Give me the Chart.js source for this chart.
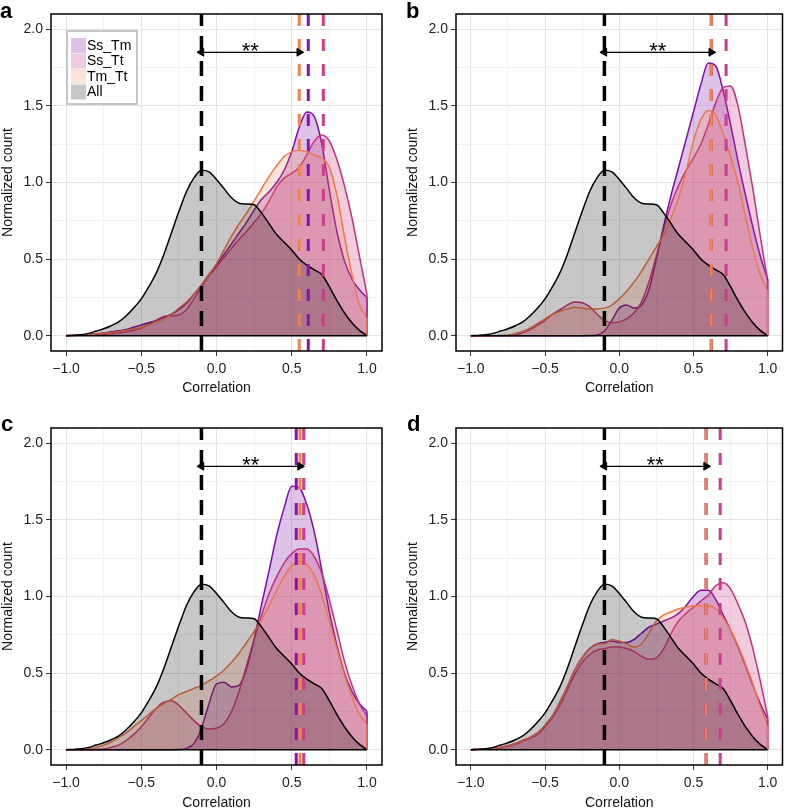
<!DOCTYPE html>
<html>
<head>
<meta charset="utf-8">
<script src="https://cdn.jsdelivr.net/npm/chart.js@4.4.0/dist/chart.umd.min.js"></script>
<style>
  body { margin: 0; background: #fff; }
  #wrap { position: relative; width: 788px; height: 810px; }
  #wrap canvas { position: absolute; }
</style>
</head>
<body>
<div id="wrap">
  <canvas id="pa" width="394" height="405" style="left:0;top:0"></canvas>
  <canvas id="pb" width="394" height="405" style="left:394px;top:0"></canvas>
  <canvas id="pc" width="394" height="405" style="left:0;top:405px"></canvas>
  <canvas id="pd" width="394" height="405" style="left:394px;top:405px"></canvas>
</div>
<script>
// x grid of the density curves
const correlation = [-1.00,-0.95,-0.90,-0.85,-0.80,-0.75,-0.70,-0.65,-0.60,-0.55,-0.50,-0.45,-0.40,-0.35,-0.30,-0.25,-0.20,-0.15,-0.10,-0.05,
  0.00,0.05,0.10,0.15,0.20,0.25,0.30,0.35,0.40,0.45,0.50,0.55,0.60,0.65,0.70,0.75,0.80,0.85,0.90,0.95,1.00];

const seriesNames = ['Ss_Tm', 'Ss_Tt', 'Tm_Tt', 'All'];

// "All" density, same in every panel
const allCount = [0,.002,.006,.015,.03,.045,.065,.09,.13,.18,.24,.32,.41,.53,.67,.81,.94,1.03,1.08,1.07,
  1.02,.96,.9,.865,.86,.855,.8,.73,.66,.61,.56,.5,.46,.43,.4,.32,.23,.15,.085,.035,0];

// panel a
const a_SsTm = [0,.003,.005,.008,.012,.018,.025,.032,.04,.055,.07,.085,.1,.12,.14,.17,.21,.27,.33,.4,
  .46,.53,.6,.67,.74,.82,.89,.94,1.0,1.08,1.2,1.36,1.46,1.43,1.25,.95,.68,.49,.37,.3,.25];
const a_SsTt = [0,.002,.003,.005,.006,.009,.012,.018,.025,.035,.05,.075,.1,.125,.13,.135,.17,.24,.32,.39,
  .45,.51,.57,.63,.68,.74,.8,.88,.97,1.03,1.06,1.1,1.18,1.27,1.31,1.27,1.15,.98,.77,.52,.27];
const a_TmTt = [0,.003,.005,.008,.012,.016,.02,.027,.035,.045,.055,.07,.09,.11,.14,.18,.22,.27,.33,.4,
  .47,.56,.65,.73,.8,.88,.96,1.04,1.11,1.17,1.2,1.21,1.2,1.18,1.16,1.1,.92,.65,.4,.2,.12];

// panel b
const b_SsTm = [0,0,0,0,0,0,0,0,0,0,0,0,0,0,0,0,.001,.005,.03,.1,
  .18,.2,.18,.2,.3,.5,.72,.92,1.1,1.28,1.46,1.64,1.78,1.76,1.6,1.38,1.14,.92,.71,.52,.37];
const b_SsTt = [0,0,0,0,0,.001,.005,.02,.04,.07,.1,.14,.17,.2,.22,.215,.19,.14,.1,.085,
  .09,.11,.15,.22,.35,.52,.7,.86,.98,1.08,1.16,1.25,1.38,1.52,1.62,1.63,1.5,1.24,.96,.65,.36];
const b_TmTt = [0,0,0,0,.002,.005,.015,.03,.05,.08,.11,.14,.16,.175,.185,.18,.175,.175,.18,.2,
  .24,.29,.35,.42,.5,.58,.66,.77,.9,1.07,1.27,1.41,1.47,1.44,1.32,1.17,1.0,.78,.57,.4,.3];

// panel c
const c_SsTm = [0,0,0,0,0,0,0,0,0,0,0,0,0,0,0,.001,.008,.04,.14,.3,
  .43,.44,.41,.42,.53,.72,.95,1.17,1.4,1.58,1.72,1.71,1.6,1.42,1.17,.9,.68,.5,.38,.3,.25];
const c_SsTt = [0,0,0,0,.002,.005,.015,.03,.06,.1,.15,.21,.27,.31,.32,.29,.24,.19,.15,.135,
  .14,.17,.25,.38,.55,.72,.88,1.02,1.13,1.22,1.28,1.31,1.31,1.26,1.15,.98,.78,.58,.42,.3,.22];
const c_TmTt = [0,0,0,.005,.015,.03,.05,.08,.11,.15,.19,.23,.27,.3,.33,.36,.38,.4,.42,.45,
  .48,.52,.57,.63,.7,.77,.85,.94,1.04,1.13,1.2,1.23,1.21,1.14,1.01,.84,.66,.49,.35,.23,.17];

// panel d
const d_SsTm = [0,.002,.005,.01,.015,.025,.04,.06,.08,.11,.16,.22,.31,.41,.52,.6,.66,.69,.7,.71,
  .7,.7,.72,.76,.8,.82,.84,.86,.89,.94,1.0,1.04,1.04,.98,.88,.78,.67,.55,.42,.3,.2];
const d_SsTt = [0,.002,.004,.008,.013,.022,.035,.055,.075,.1,.15,.21,.29,.39,.49,.57,.62,.65,.66,.67,
  .67,.66,.64,.61,.59,.6,.66,.76,.84,.89,.93,.97,1.01,1.07,1.09,1.05,.95,.83,.66,.45,.22];
const d_TmTt = [0,.002,.005,.01,.015,.025,.04,.06,.08,.11,.16,.22,.31,.41,.52,.6,.66,.69,.69,.72,
  .71,.69,.67,.69,.76,.84,.88,.9,.92,.93,.94,.94,.94,.92,.86,.78,.68,.56,.43,.28,.16];

// medians, order Ss_Tm, Ss_Tt, Tm_Tt
const medianAll = -0.1;
const a_medians = [0.61, 0.71, 0.55];
const b_medians = [0.62, 0.72, 0.62];
const c_medians = [0.53, 0.58, 0.555];
const d_medians = [0.585, 0.68, 0.585];

// axis ticks
const xTicks = [-1, -0.75, -0.5, -0.25, 0, 0.25, 0.5, 0.75, 1];
const yTicks = [0, 0.25, 0.5, 0.75, 1, 1.25, 1.5, 1.75, 2];
const xMin = -1.1, xMax = 1.1, yMin = -0.1, yMax = 2.1;
const arrowY = 1.85;
const starY = 1.81;
const starText = '**';

const lineColors = { Ss_Tm: '#7d0ca8', Ss_Tt: '#c2317c', Tm_Tt: '#ec7845', All: '#000000' };
const fillColors = { Ss_Tm: 'rgba(123,14,166,0.25)', Ss_Tt: 'rgba(196,51,122,0.25)',
                     Tm_Tt: 'rgba(238,122,69,0.2)', All: 'rgba(0,0,0,0.22)' };
const medianColors = { Ss_Tm: '#8a10b6', Ss_Tt: '#cc3c88', Tm_Tt: '#f0824e' };

Chart.defaults.font.family = "'Liberation Sans', Arial, sans-serif";
Chart.defaults.color = '#222';

const isMajor = v => Math.abs(v * 2 - Math.round(v * 2)) < 1e-9;
const fmt = v => isMajor(v) ? (v < 0 ? '\u2212' + Math.abs(v).toFixed(1) : v.toFixed(1)) : '';
const lastX = correlation[correlation.length - 1];

const decor = {
  id: 'decor',
  afterDraw(chart, args, o) {
    const { ctx, chartArea: ca, scales: { x, y } } = chart;
    ctx.save();
    ctx.strokeStyle = '#000';
    ctx.lineWidth = 1.5;
    ctx.strokeRect(ca.left, ca.top, ca.width, ca.height);

    ctx.fillStyle = '#000';
    ctx.font = "22px 'Liberation Sans', Arial, sans-serif";
    ctx.textAlign = 'center';
    ctx.textBaseline = 'alphabetic';
    ctx.fillText(starText, x.getPixelForValue((medianAll + o.arrowEnd) / 2), y.getPixelForValue(starY));

    ctx.font = "bold 22px 'Liberation Sans', Arial, sans-serif";
    ctx.textAlign = 'left';
    ctx.fillText(o.letter, o.letterX, o.letterY);

    if (o.legend) {
      const bx = ca.left + 16, by = ca.top + 17;
      ctx.fillStyle = '#fff';
      ctx.fillRect(bx, by, 70, 73);
      ctx.strokeStyle = '#b5b5b5';
      ctx.lineWidth = 1.5;
      ctx.strokeRect(bx, by, 70, 73);
      ctx.font = "14px 'Liberation Sans', Arial, sans-serif";
      ctx.textBaseline = 'middle';
      seriesNames.forEach((name, i) => {
        const sy = by + 7 + i * 15.5;
        ctx.fillStyle = fillColors[name];
        ctx.fillRect(bx + 4, sy, 15, 15);
        ctx.fillStyle = '#000';
        ctx.fillText(name, bx + 20, sy + 8);
      });
    }
    ctx.restore();
  }
};

const panels = [
  { id: 'pa', letter: 'a', SsTm: a_SsTm, SsTt: a_SsTt, TmTt: a_TmTt, med: a_medians,
    pad: { left: 0, right: 12, top: 14, bottom: 0 }, xHeight: 54, titlePad: 8, letterX: 0, letterY: 18, legend: true },
  { id: 'pb', letter: 'b', SsTm: b_SsTm, SsTt: b_SsTt, TmTt: b_TmTt, med: b_medians,
    pad: { left: 11, right: 1, top: 14, bottom: 0 }, xHeight: 54, titlePad: 8, letterX: 12, letterY: 18, legend: false },
  { id: 'pc', letter: 'c', SsTm: c_SsTm, SsTt: c_SsTt, TmTt: c_TmTt, med: c_medians,
    pad: { left: 0, right: 12, top: 23, bottom: 0 }, xHeight: 45, titlePad: -2, letterX: 1, letterY: 26, legend: false },
  { id: 'pd', letter: 'd', SsTm: d_SsTm, SsTt: d_SsTt, TmTt: d_TmTt, med: d_medians,
    pad: { left: 11, right: 1, top: 23, bottom: 0 }, xHeight: 45, titlePad: -2, letterX: 13, letterY: 26, legend: false }
];

function gridOpts() {
  return {
    color: c => (c.tick && isMajor(c.tick.value)) ? '#e3e3e3' : '#f2f2f2',
    tickColor: c => (c.tick && isMajor(c.tick.value)) ? '#333' : 'rgba(0,0,0,0)',
    tickLength: 5,
    lineWidth: 1
  };
}

panels.forEach(p => {
  const density = (name, vals) => ({
    label: name,
    data: correlation.map((c, i) => ({ x: c, y: vals[i] })),
    borderColor: lineColors[name],
    backgroundColor: fillColors[name],
    borderWidth: 1.5,
    fill: 'origin',
    pointRadius: 0,
    cubicInterpolationMode: 'monotone'
  });
  // vertical closing edge of an area at the right end of the range
  const edge = (name, vals) => ({
    data: [{ x: lastX, y: 0 }, { x: lastX, y: vals[vals.length - 1] }],
    borderColor: lineColors[name],
    borderWidth: 1.5,
    pointRadius: 0,
    fill: false
  });
  const medLine = (m, color, width, dash) => ({
    data: [{ x: m, y: yMin }, { x: m, y: yMax }],
    borderColor: color,
    borderWidth: width,
    borderDash: dash,
    pointRadius: 0,
    fill: false
  });

  const datasets = [
    { // significance arrow
      data: [{ x: medianAll, y: arrowY }, { x: p.med[2], y: arrowY }],
      borderColor: '#000', borderWidth: 1.3, fill: false,
      pointStyle: 'triangle', pointRadius: 4.5, pointRotation: [-90, 90],
      pointBackgroundColor: '#000', pointBorderColor: '#000', pointBorderWidth: 1
    },
    medLine(medianAll, '#000', 3.5, [15, 10]),
    medLine(p.med[2], medianColors.Tm_Tt, 3, [12, 13]),
    medLine(p.med[1], medianColors.Ss_Tt, 3, [12, 13]),
    medLine(p.med[0], medianColors.Ss_Tm, 3, [12, 13]),
    { // baseline of the areas
      data: [{ x: correlation[0], y: 0 }, { x: lastX, y: 0 }],
      borderColor: '#000', borderWidth: 1.5, pointRadius: 0, fill: false
    },
    edge('Tm_Tt', p.TmTt),
    edge('Ss_Tt', p.SsTt),
    edge('Ss_Tm', p.SsTm),
    density('All', allCount),
    density('Tm_Tt', p.TmTt),
    density('Ss_Tt', p.SsTt),
    density('Ss_Tm', p.SsTm)
  ];

  new Chart(document.getElementById(p.id), {
    type: 'line',
    data: { datasets },
    options: {
      responsive: false,
      animation: false,
      events: [],
      layout: { padding: p.pad },
      plugins: {
        legend: { display: false },
        tooltip: { enabled: false },
        decor: { letter: p.letter, letterX: p.letterX, letterY: p.letterY, legend: p.legend, arrowEnd: p.med[2] }
      },
      scales: {
        x: {
          type: 'linear', min: xMin, max: xMax,
          afterBuildTicks: s => { s.ticks = xTicks.map(v => ({ value: v })); },
          afterFit: s => { s.height = p.xHeight; },
          ticks: { callback: fmt, font: { size: 14 }, color: '#222', padding: 5, maxRotation: 0, autoSkip: false },
          grid: gridOpts(),
          border: { display: false },
          title: { display: true, text: 'Correlation', font: { size: 14 }, color: '#111',
                   padding: { top: 0, bottom: p.titlePad } }
        },
        y: {
          type: 'linear', min: yMin, max: yMax,
          afterBuildTicks: s => { s.ticks = yTicks.map(v => ({ value: v })); },
          afterFit: s => { s.width = 51; },
          ticks: { callback: fmt, font: { size: 14 }, color: '#222', padding: 3, autoSkip: false },
          grid: gridOpts(),
          border: { display: false },
          title: { display: true, text: 'Normalized count', font: { size: 14 }, color: '#111',
                   padding: { top: 0, bottom: 0 } }
        }
      }
    },
    plugins: [decor]
  });
});
</script>
</body>
</html>
